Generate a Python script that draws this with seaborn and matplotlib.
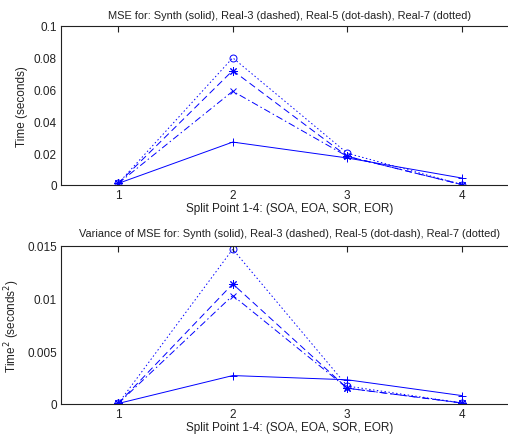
import matplotlib
matplotlib.use("Agg")
import matplotlib.pyplot as plt
import seaborn as sns
import pandas as pd

split_points = [1, 2, 3, 4]
series_names = ["Synth", "Real-3", "Real-5", "Real-7"]

mse_synth = [0.001, 0.027, 0.017, 0.0044]
mse_real3 = [0.001, 0.072, 0.018, 0.0003]
mse_real5 = [0.001, 0.059, 0.018, 0.0003]
mse_real7 = [0.001, 0.080, 0.020, 0.0003]

var_synth = [0.00005, 0.0027, 0.0023, 0.0008]
var_real3 = [0.00005, 0.0114, 0.0015, 0.0001]
var_real5 = [0.00005, 0.0103, 0.0015, 0.0001]
var_real7 = [0.00005, 0.0147, 0.0017, 0.0001]

top_yticks = [0, 0.02, 0.04, 0.06, 0.08, 0.1]
top_yticklabels = ["0", "0.02", "0.04", "0.06", "0.08", "0.1"]
bot_yticks = [0, 0.005, 0.01, 0.015]
bot_yticklabels = ["0", "0.005", "0.01", "0.015"]
xticklabels = ["1", "2", "3", "4"]

sns.set_style("white")
plt.rcParams["font.family"] = ["Liberation Sans", "DejaVu Sans"]

styles = {
    "Synth": dict(ls="-", marker="+", ms=6),
    "Real-3": dict(ls=(0, (7, 4)), marker=(8, 2, 0), ms=6),
    "Real-5": dict(ls=(0, (7, 3, 1.5, 3)), marker="x", ms=4),
    "Real-7": dict(ls=(0, (1.5, 2.5)), marker="o", ms=5),
}

fig = plt.figure(figsize=(5.08, 4.35), dpi=100)
fig.patch.set_facecolor("white")
ax1 = fig.add_axes([61 / 508, 1 - 186 / 435, (519 - 61) / 508, (186 - 27) / 435])
ax2 = fig.add_axes([61 / 508, 1 - 405 / 435, (519 - 61) / 508, (405 - 247) / 435])

def draw(ax, vals, ylim, yticks, yticklabels, title, ylabel, tpad):
    for name, v in zip(series_names, vals):
        df = pd.DataFrame({"x": split_points, "y": v})
        st = styles[name]
        sns.lineplot(data=df, x="x", y="y", ax=ax, color="#0000ff", linewidth=0.7,
                     linestyle=st["ls"], marker=st["marker"], markersize=st["ms"],
                     markerfacecolor="none", markeredgecolor="#0000ff",
                     markeredgewidth=0.7)
    ax.set_xlim(0.5, 4.5)
    ax.set_ylim(*ylim)
    ax.set_xticks(split_points)
    ax.set_xticklabels(xticklabels)
    ax.set_yticks(yticks)
    ax.set_yticklabels(yticklabels)
    ax.tick_params(direction="in", length=4, width=0.8, top=True, right=True,
                   labelsize=8.5, colors="#222222", pad=3)
    for s in ax.spines.values():
        s.set_color("#222222")
        s.set_linewidth(0.8)
    ax.set_title(title, fontsize=7.9, color="#222222", pad=tpad)
    ax.set_xlabel("Split Point 1-4: (SOA, EOA, SOR, EOR)", fontsize=8.5, color="#222222", labelpad=0.5)
    ax.set_ylabel(ylabel, fontsize=8.5, color="#222222", labelpad=4)
    ax.grid(False)

draw(ax1, [mse_synth, mse_real3, mse_real5, mse_real7], (0, 0.1), top_yticks, top_yticklabels,
     "MSE for: Synth (solid), Real-3 (dashed), Real-5 (dot-dash), Real-7 (dotted)",
     "Time (seconds)", 6)
draw(ax2, [var_synth, var_real3, var_real5, var_real7], (0, 0.015), bot_yticks, bot_yticklabels,
     "Variance of MSE for: Synth (solid), Real-3 (dashed), Real-5 (dot-dash), Real-7 (dotted)",
     "Time$^2$ (seconds$^2$)", 7)

fig.savefig("out.png", dpi=100, facecolor="white")
